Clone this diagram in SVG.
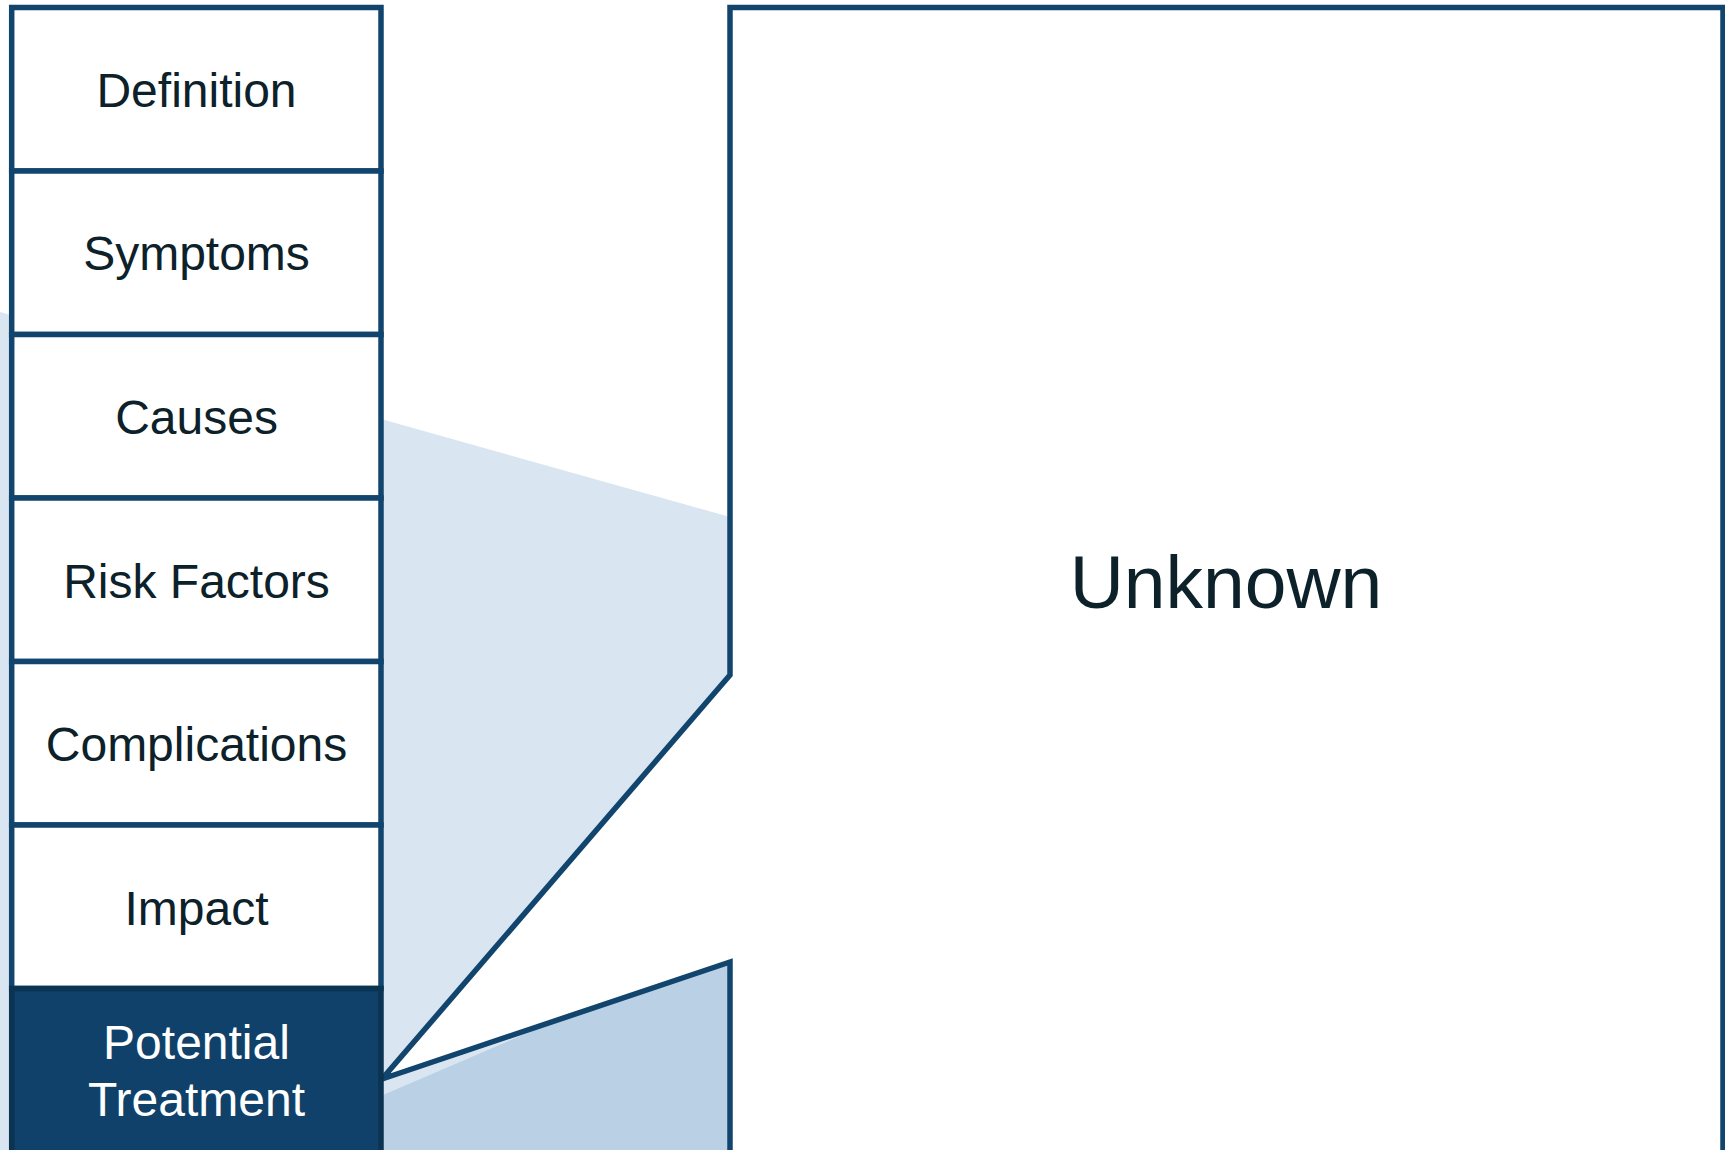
<svg xmlns="http://www.w3.org/2000/svg" width="1725" height="1150" viewBox="0 0 1725 1150">
  <style>
    .row { fill: #ffffff; stroke: #12456e; stroke-width: 5.5; }
    .rowd { fill: #0f416a; stroke: #0b3352; stroke-width: 5.5; }
    .lbl { font-family: "Liberation Sans", Arial, sans-serif; font-size: 48px; fill: #0c2129; text-anchor: middle; }
    .lbll { font-family: "Liberation Sans", Arial, sans-serif; font-size: 48px; fill: #ffffff; text-anchor: middle; }
    .big { font-family: "Liberation Sans", Arial, sans-serif; font-size: 75px; fill: #0c2129; text-anchor: middle; }
  </style>
  <rect x="0" y="0" width="1725" height="1150" fill="#ffffff"/>
  <g id="background">
    <polygon points="0,312 730,517 730,1160 0,1160" fill="#d9e6f1"/>
    <polygon points="383,1095 730,946 730,1160 383,1160" fill="#b9d0e5"/>
  </g>
  <g id="connectors">
    <path id="callout" d="M730,7.5 H1723 V1160 H730 V962 L382,1079 L730,675 Z" fill="#ffffff" stroke="#12456e" stroke-width="5.5" stroke-linejoin="miter"/>
  </g>
  <g id="node-unknown">
    <text class="big" x="1226" y="608">Unknown</text>
  </g>
  <g id="node-definition">
    <rect class="row" x="11.7" y="7.5" width="369.3" height="163.5"/>
    <text class="lbl" x="196.5" y="106.5">Definition</text>
  </g>
  <g id="node-symptoms">
    <rect class="row" x="11.7" y="171" width="369.3" height="163.5"/>
    <text class="lbl" x="196.5" y="270">Symptoms</text>
  </g>
  <g id="node-causes">
    <rect class="row" x="11.7" y="334.5" width="369.3" height="163.5"/>
    <text class="lbl" x="196.5" y="434">Causes</text>
  </g>
  <g id="node-risk-factors">
    <rect class="row" x="11.7" y="498" width="369.3" height="163.5"/>
    <text class="lbl" x="196.5" y="597.5">Risk Factors</text>
  </g>
  <g id="node-complications">
    <rect class="row" x="11.7" y="661.5" width="369.3" height="163.5"/>
    <text class="lbl" x="196.5" y="761">Complications</text>
  </g>
  <g id="node-impact">
    <rect class="row" x="11.7" y="825" width="369.3" height="163.5"/>
    <text class="lbl" x="196.5" y="924.5">Impact</text>
  </g>
  <g id="node-potential-treatment">
    <rect class="rowd" x="11.7" y="988.5" width="369.3" height="180"/>
    <text class="lbll" x="196.5" y="1059">Potential</text>
    <text class="lbll" x="196.5" y="1116">Treatment</text>
  </g>
</svg>
